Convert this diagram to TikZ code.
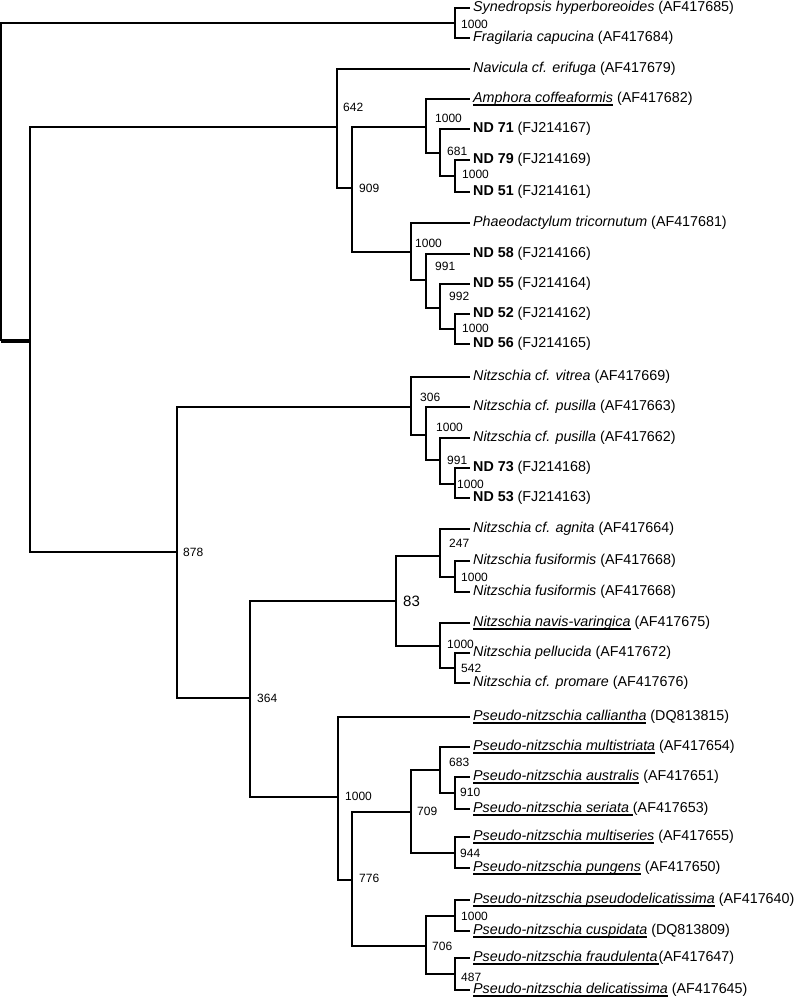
\documentclass[tikz,border=0pt]{standalone}
\usepackage{fontspec}
\setmainfont{Liberation Sans}
\newcommand\myul[1]{\setbox0\hbox{#1}\rlap{\rule[-3.4pt]{\wd0}{1.8pt}}\box0\relax}
\tikzset{
  br/.style={line width=2.5pt, line join=miter},
  rootbr/.style={line width=4.2pt},
  leaf/.style={anchor=west, inner xsep=3pt, inner ysep=0pt, font=\fontsize{14.3}{16}\selectfont},
  bs/.style={anchor=west, inner sep=0pt, font=\fontsize{12}{13}\selectfont},
  bsbig/.style={anchor=west, inner sep=0pt, font=\fontsize{15}{16}\selectfont},
}
\begin{document}
\begin{tikzpicture}[x=1pt,y=-1pt]
\useasboundingbox (0,0) rectangle (800,1000);
% internal nodes (x, entry y)
\coordinate (A) at (1,341);
\coordinate (B) at (455,23);
\coordinate (C) at (30,341);
\coordinate (D) at (337,127);
\coordinate (E) at (352,188);
\coordinate (F) at (426,127);
\coordinate (G) at (440,153);
\coordinate (H) at (455,176);
\coordinate (I) at (411,252);
\coordinate (J) at (426,280);
\coordinate (K) at (440,308);
\coordinate (L) at (455,329);
\coordinate (M) at (177,552);
\coordinate (N) at (411,407);
\coordinate (O) at (426,435);
\coordinate (P) at (440,460);
\coordinate (Q) at (455,484);
\coordinate (S) at (250,698);
\coordinate (R) at (396,601);
\coordinate (AC) at (440,556);
\coordinate (AD) at (455,577);
\coordinate (AE) at (440,646);
\coordinate (AF) at (455,668);
\coordinate (T) at (338,797);
\coordinate (U) at (352,880);
\coordinate (V) at (411,812);
\coordinate (W) at (440,770);
\coordinate (X) at (455,793);
\coordinate (Y) at (455,853);
\coordinate (Z) at (426,946);
\coordinate (AA) at (455,916);
\coordinate (AB) at (455,974);
% leaves
\node[leaf] (l1) at (470,8) {\textit{Synedropsis hyperboreoides} (AF417685)};
\node[leaf] (l2) at (470,38) {\textit{Fragilaria capucina} (AF417684)};
\node[leaf] (l3) at (470,69) {\textit{Navicula cf. erifuga} (AF417679)};
\node[leaf] (l4) at (470,99) {\myul{\textit{Amphora coffeaformis}} (AF417682)};
\node[leaf] (l5) at (470,129) {\textbf{ND 71} (FJ214167)};
\node[leaf] (l6) at (470,160) {\textbf{ND 79} (FJ214169)};
\node[leaf] (l7) at (470,192) {\textbf{ND 51} (FJ214161)};
\node[leaf] (l8) at (470,223) {\textit{Phaeodactylum tricornutum} (AF417681)};
\node[leaf] (l9) at (470,254) {\textbf{ND 58} (FJ214166)};
\node[leaf] (l10) at (470,284) {\textbf{ND 55} (FJ214164)};
\node[leaf] (l11) at (470,314) {\textbf{ND 52} (FJ214162)};
\node[leaf] (l12) at (470,344) {\textbf{ND 56} (FJ214165)};
\node[leaf] (l13) at (470,377) {\textit{Nitzschia cf. vitrea} (AF417669)};
\node[leaf] (l14) at (470,407) {\textit{Nitzschia cf. pusilla} (AF417663)};
\node[leaf] (l15) at (470,438) {\textit{Nitzschia cf. pusilla} (AF417662)};
\node[leaf] (l16) at (470,468) {\textbf{ND 73} (FJ214168)};
\node[leaf] (l17) at (470,498) {\textbf{ND 53} (FJ214163)};
\node[leaf] (l18) at (470,529) {\textit{Nitzschia cf. agnita} (AF417664)};
\node[leaf] (l19) at (470,561) {\textit{Nitzschia fusiformis} (AF417668)};
\node[leaf] (l20) at (470,592) {\textit{Nitzschia fusiformis} (AF417668)};
\node[leaf] (l21) at (470,623) {\myul{\textit{Nitzschia navis-varingica}} (AF417675)};
\node[leaf] (l22) at (470,653) {\textit{Nitzschia pellucida} (AF417672)};
\node[leaf] (l23) at (470,683) {\textit{Nitzschia cf. promare} (AF417676)};
\node[leaf] (l24) at (470,717) {\myul{\textit{Pseudo-nitzschia calliantha}} (DQ813815)};
\node[leaf] (l25) at (470,747) {\myul{\textit{Pseudo-nitzschia multistriata}} (AF417654)};
\node[leaf] (l26) at (470,777) {\myul{\textit{Pseudo-nitzschia australis}} (AF417651)};
\node[leaf] (l27) at (470,809) {\myul{\textit{Pseudo-nitzschia seriata\ }}(AF417653)};
\node[leaf] (l28) at (470,837) {\myul{\textit{Pseudo-nitzschia multiseries}} (AF417655)};
\node[leaf] (l29) at (470,868) {\myul{\textit{Pseudo-nitzschia pungens}} (AF417650)};
\node[leaf] (l30) at (470,900) {\myul{\textit{Pseudo-nitzschia pseudodelicatissima}} (AF417640)};
\node[leaf] (l31) at (470,931) {\myul{\textit{Pseudo-nitzschia cuspidata}} (DQ813809)};
\node[leaf] (l32) at (470,958) {\myul{\textit{Pseudo-nitzschia fraudulenta}\kern1pt}(AF417647)};
\node[leaf] (l33) at (470,990) {\myul{\textit{Pseudo-nitzschia delicatissima}} (AF417645)};
% branches between internal nodes
\draw[br] (A) |- (B);
\draw[rootbr] (A) -- (C);
\foreach \p/\c in {C/D, C/M, D/E, E/F, E/I, F/G, G/H, I/J, J/K, K/L, M/N, M/S, N/O, O/P, P/Q,
  S/R, S/T, R/AC, R/AE, AC/AD, AE/AF, T/U, U/V, U/Z, V/W, V/Y, W/X, Z/AA, Z/AB}
  \draw[br] (\p) |- (\c);
% branches to leaves
\foreach \p/\c in {B/l1, B/l2, D/l3, F/l4, G/l5, H/l6, H/l7, I/l8, J/l9, K/l10, L/l11, L/l12,
  N/l13, O/l14, P/l15, Q/l16, Q/l17, AC/l18, AD/l19, AD/l20, AE/l21, AF/l22, AF/l23,
  T/l24, W/l25, X/l26, X/l27, Y/l28, Y/l29, AA/l30, AA/l31, AB/l32, AB/l33}
  \draw[br] (\p) |- (\c.west);
% bootstrap values
\node[bs] (bB) at (461,24) {1000};
\node[bs] (bD) at (343,107) {642};
\node[bs] (bE) at (359,188) {909};
\node[bs] (bF) at (435,118) {1000};
\node[bs] (bG) at (447,151) {681};
\node[bs] (bH) at (462,174) {1000};
\node[bs] (bI) at (415,243) {1000};
\node[bs] (bJ) at (435,266) {991};
\node[bs] (bK) at (449,296) {992};
\node[bs] (bL) at (462,328) {1000};
\node[bs] (bM) at (183,552) {878};
\node[bs] (bN) at (420,397) {306};
\node[bs] (bO) at (436,427) {1000};
\node[bs] (bP) at (447,460) {991};
\node[bs] (bQ) at (457,484) {1000};
\node[bsbig] (bR) at (403,601) {83};
\node[bs] (bS) at (257,698) {364};
\node[bs] (bAC) at (449,543) {247};
\node[bs] (bAD) at (461,577) {1000};
\node[bs] (bAE) at (447,644) {1000};
\node[bs] (bAF) at (461,668) {542};
\node[bs] (bT) at (345,796) {1000};
\node[bs] (bU) at (359,878) {776};
\node[bs] (bV) at (417,811) {709};
\node[bs] (bW) at (449,762) {683};
\node[bs] (bX) at (460,792) {910};
\node[bs] (bY) at (460,853) {944};
\node[bs] (bZ) at (432,946) {706};
\node[bs] (bAA) at (461,916) {1000};
\node[bs] (bAB) at (461,977) {487};
\end{tikzpicture}
\end{document}
